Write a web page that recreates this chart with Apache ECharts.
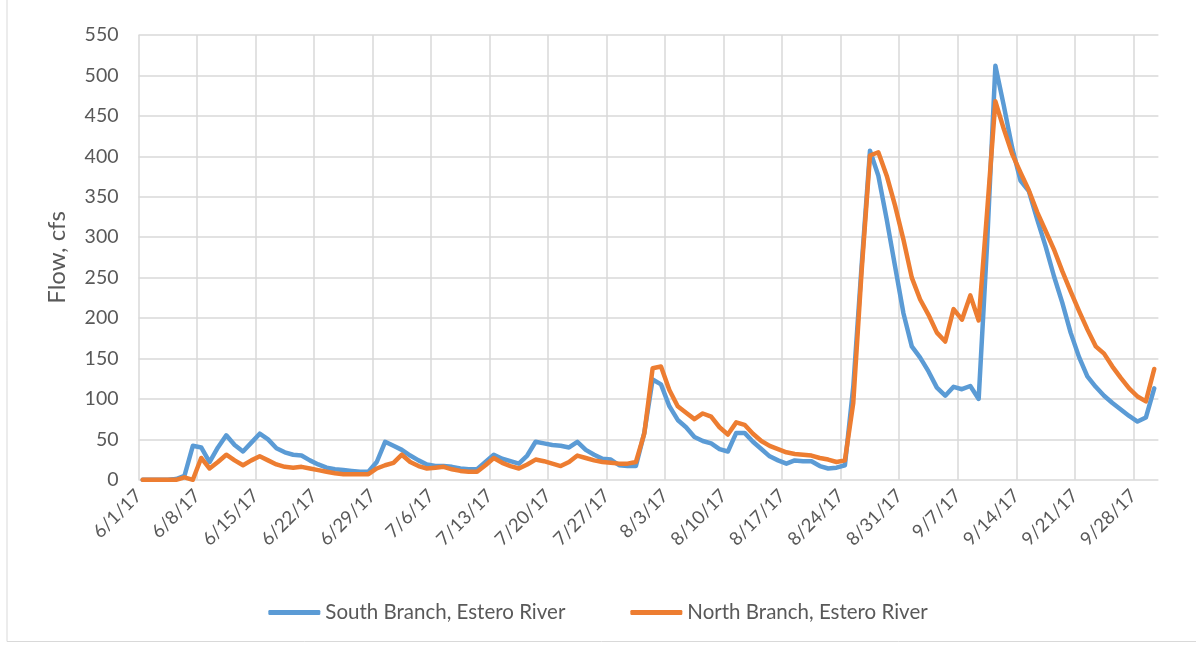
<!DOCTYPE html>
<html>
<head>
<meta charset="utf-8">
<script src="https://cdn.jsdelivr.net/npm/echarts@6/dist/echarts.min.js"></script>
<style>
html,body{margin:0;padding:0;background:#fff;}
#c{width:1196px;height:645px;}
</style>
</head>
<body>
<div id="c"></div>
<script>
// Daily dates 6/1/17 .. 9/30/17 (122 days)
const dates = (function(){
  const out = [];
  const d = new Date(2017, 5, 1);
  while (d <= new Date(2017, 8, 30)) {
    out.push((d.getMonth()+1) + '/' + d.getDate() + '/17');
    d.setDate(d.getDate()+1);
  }
  return out;
})();

const tickLabels = ['6/1/17','6/8/17','6/15/17','6/22/17','6/29/17','7/6/17','7/13/17','7/20/17','7/27/17',
  '8/3/17','8/10/17','8/17/17','8/24/17','8/31/17','9/7/17','9/14/17','9/21/17','9/28/17'];

const southBranch = [
  0,0,0,0,1,5,42,40,22,40,55,43,35,46,57,50,39,34,31,30,
  24,19,15,13,12,11,10,10,22,47,42,37,30,24,19,17,17,16,14,13,
  13,22,31,26,23,20,30,47,45,43,42,40,47,37,31,26,25,18,17,17,
  58,124,118,91,74,65,53,48,45,38,35,58,58,47,38,29,24,20,24,23,
  23,17,14,15,18,115,265,407,376,322,264,206,165,151,134,114,104,115,112,116,
  100,290,512,463,411,370,357,322,289,252,219,182,152,128,115,104,95,87,79,72,
  77,113
];

const northBranch = [
  0,0,0,0,0,3,0,27,14,22,31,24,18,24,29,24,19,16,15,16,
  14,12,10,8,7,7,7,7,14,18,21,31,22,17,14,15,16,13,11,10,
  10,18,27,21,17,14,19,25,23,20,17,22,30,27,24,22,21,20,20,22,
  57,138,140,111,91,83,75,82,78,65,56,71,68,57,48,42,38,34,32,31,
  30,27,25,22,24,95,258,401,405,376,339,297,250,223,204,182,171,211,198,228,
  197,330,468,434,403,380,358,331,308,285,258,233,209,186,165,156,140,126,113,103,
  97,137
];

const yTicks = {min: 0, max: 550, interval: 50};

const font = 'Lato, "Liberation Sans", sans-serif';
const txt = '#595959';
const grid = '#d9d9d9';
const blue = '#5b9bd5';
const orange = '#ed7d31';

const chart = echarts.init(document.getElementById('c'), null, {renderer: 'canvas'});
chart.setOption({
  animation: false,
  backgroundColor: '#fff',
  textStyle: {fontFamily: font},
  grid: {left: 138.5, right: 37.6, top: 35, bottom: 165.2, containLabel: false},
  xAxis: [
    {
      type: 'category', data: dates, boundaryGap: true, position: 'bottom',
      show: false
    },
    {
      type: 'value', position: 'bottom', min: 0, max: dates.length, interval: 7,
      axisLine: {show: false}, axisTick: {show: false},
      splitLine: {show: true, showMaxLine: false, lineStyle: {color: grid, width: 1.5}},
      axisLabel: {
        rotate: 45, margin: 13, color: txt, fontSize: 18.5, fontFamily: font,
        showMaxLabel: false,
        formatter: function (v) { return (v % 7 === 0 && tickLabels[v / 7]) ? tickLabels[v / 7] : ''; }
      }
    }
  ],
  yAxis: {
    type: 'value', min: yTicks.min, max: yTicks.max, interval: yTicks.interval,
    name: 'Flow, cfs', nameLocation: 'middle', nameGap: 69,
    nameTextStyle: {color: txt, fontSize: 24, fontFamily: font},
    axisLine: {show: false}, axisTick: {show: false},
    axisLabel: {color: txt, fontSize: 19.5, fontFamily: font, margin: 20},
    splitLine: {lineStyle: {color: grid, width: 1.5}}
  },
  legend: {
    bottom: 17, left: 'center', itemWidth: 52, itemHeight: 5, itemGap: 65,
    textStyle: {color: txt, fontSize: 20.5, fontFamily: font},
    data: [
      {name: 'South Branch, Estero River', icon: 'roundRect'},
      {name: 'North Branch, Estero River', icon: 'roundRect'}
    ]
  },
  series: [
    {
      name: 'South Branch, Estero River', type: 'line', xAxisIndex: 0, data: southBranch,
      symbol: 'none', lineStyle: {color: blue, width: 4.5, join: 'round', cap: 'round'},
      itemStyle: {color: blue}
    },
    {
      name: 'North Branch, Estero River', type: 'line', xAxisIndex: 0, data: northBranch,
      symbol: 'none', lineStyle: {color: orange, width: 4.5, join: 'round', cap: 'round'},
      itemStyle: {color: orange}
    }
  ],
  graphic: [
    {type: 'polyline', shape: {points: [[7, 0], [7, 641.5], [1196, 641.5]]},
     style: {stroke: grid, lineWidth: 1, fill: null}, silent: true}
  ]
});
</script>
</body>
</html>
